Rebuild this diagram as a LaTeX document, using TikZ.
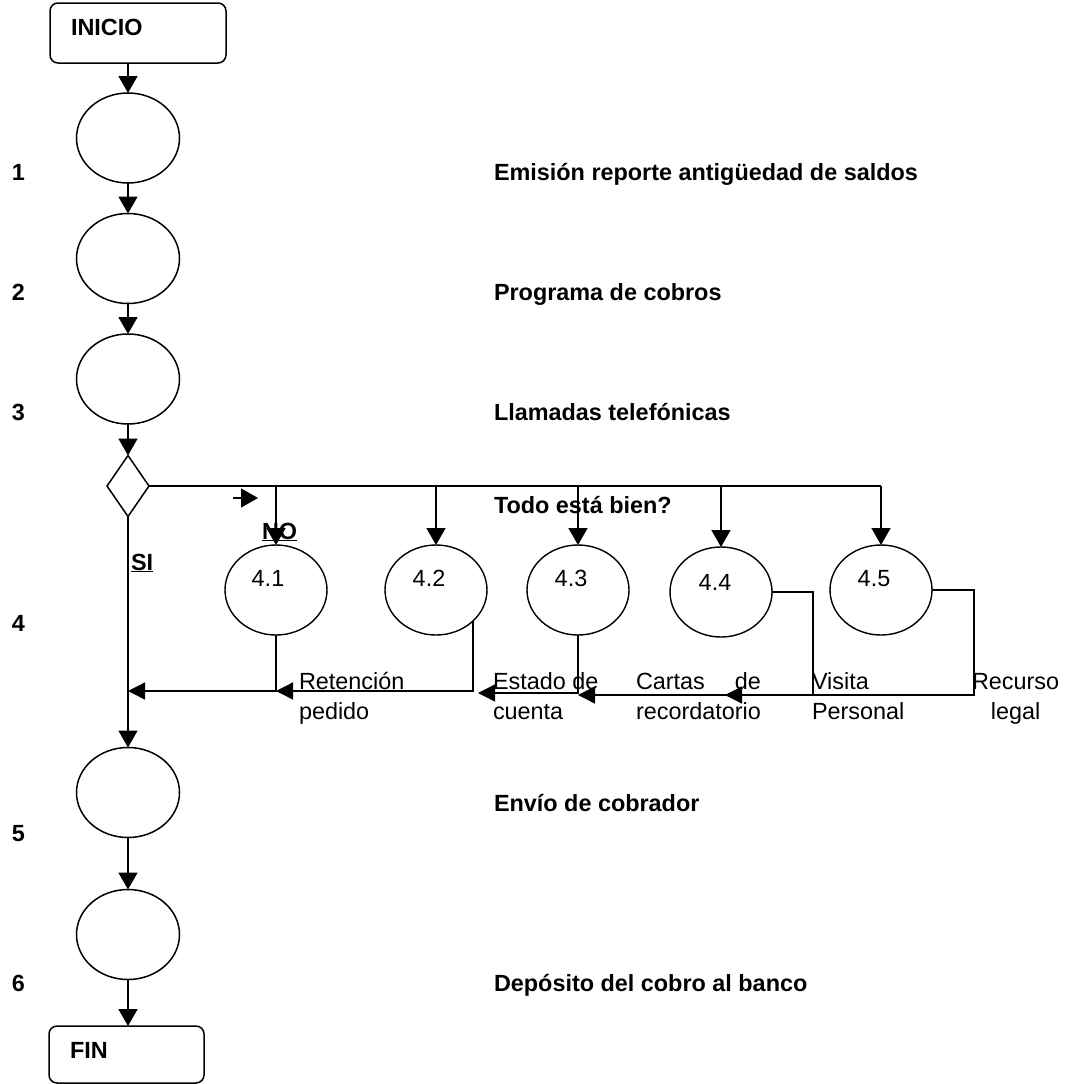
\documentclass[tikz,border=0pt]{standalone}
\usepackage{fontspec}
\setmainfont{Liberation Sans}
\usetikzlibrary{shapes.geometric,arrows.meta,calc}

\begin{document}
\begin{tikzpicture}[x=1pt,y=-1pt,
  every node/.style={font=\fontsize{23.4}{30}\selectfont, inner sep=0pt, outer sep=0pt},
  proc/.style={draw, line width=1.5pt, ellipse, minimum width=103pt, minimum height=90pt},
  subproc/.style={draw, line width=1.4pt, ellipse, minimum width=102pt, minimum height=90pt},
  term/.style={draw, line width=1.5pt, rounded corners=8pt, rectangle},
  decision/.style={draw, line width=1.5pt, diamond, minimum width=42pt, minimum height=61pt},
  boldtxt/.style={font=\fontsize{23.4}{30}\selectfont\bfseries, anchor=base west},
  plaintxt/.style={anchor=base west},
  numtxt/.style={anchor=base},
  flow/.style={line width=1.8pt, -{Triangle[length=17pt,width=19pt]}},
  back/.style={line width=1.4pt, -{Triangle[length=17pt,width=17pt]}},
]
\useasboundingbox (0,0) rectangle (1072,1084);

% --- main column -------------------------------------------------------
\node[term, minimum width=176pt, minimum height=60pt] (ini) at (138,33) {};
\node[boldtxt] (iniT) at (71,35) {INICIO};
\node[proc] (c1) at (128,138) {};
\node[proc] (c2) at (128,258.5) {};
\node[proc] (c3) at (128,379) {};
\node[decision] (d) at (128,486) {};
\node[proc] (c5) at (128,792.5) {};
\node[proc] (c6) at (128,934.5) {};
\node[term, minimum width=155pt, minimum height=57pt] (fin) at (126.5,1054.5) {};
\node[boldtxt] (finT) at (70,1058) {FIN};

\draw[flow] (ini.south -| c1.north) -- (c1.north);
\draw[flow] (c1.south) -- (c2.north);
\draw[flow] (c2.south) -- (c3.north);
\draw[flow] (c3.south) -- (d.north);
\draw[flow] (d.south) -- (c5.north);
\draw[flow] (c5.south) -- (c6.north);
\draw[flow] (c6.south) -- (fin.north -| c6.south);

% --- step numbers --------------------------------------------------------
\node[boldtxt] (s1) at (12,180) {1};
\node[boldtxt] (s2) at (12,300) {2};
\node[boldtxt] (s3) at (12,420) {3};
\node[boldtxt] (s4) at (12,631) {4};
\node[boldtxt] (s5) at (12,841) {5};
\node[boldtxt] (s6) at (12,991) {6};

% --- step descriptions ---------------------------------------------------
\node[boldtxt] (t1) at (494,180) {Emisión reporte antigüedad de saldos};
\node[boldtxt] (t2) at (494,300) {Programa de cobros};
\node[boldtxt] (t3) at (494,420) {Llamadas telefónicas};
\node[boldtxt] (t4) at (494,513) {Todo está bien?};
\node[boldtxt] (t5) at (494,811) {Envío de cobrador};
\node[boldtxt] (t6) at (494,991) {Depósito del cobro al banco};

% --- decision branches ---------------------------------------------------
\node[subproc] (c41) at (276,590) {};
\node[subproc] (c42) at (436,590) {};
\node[subproc] (c43) at (578,590) {};
\node[subproc] (c44) at (721,592) {};
\node[subproc] (c45) at (881,590) {};
\node[numtxt] (n41) at (268,586) {4.1};
\node[numtxt] (n42) at (429,586) {4.2};
\node[numtxt] (n43) at (571,586) {4.3};
\node[numtxt] (n44) at (715,590) {4.4};
\node[numtxt] (n45) at (874,586) {4.5};

\coordinate (hEnd) at (c45.north |- d.east);
\draw[line width=2.2pt] (d.east) -- (hEnd);
\foreach \c in {c41,c42,c43,c44,c45}
  \draw[flow] (\c.north |- d.east) -- (\c.north);

\coordinate (sa) at (233,498);
\coordinate (sb) at (258,498);
\draw[flow, line width=1.4pt] (sa) -- (sb);

\node[boldtxt] (no) at (262,539) {\underline{NO}};
\node[boldtxt] (si) at (131,570) {\underline{SI}};

% --- return paths --------------------------------------------------------
\coordinate (r1) at (c5.north |- 0,691);
\coordinate (r2) at (c41.south |- 0,691);
\coordinate (r3) at (478,693);
\coordinate (r4) at (578,695);
\coordinate (k4) at (813,695);
\coordinate (r5) at (725,695);
\coordinate (k5) at (974,695);

\draw[back] (c41.south) |- (r1);
\draw[back] (c42.-40) |- (r2);
\draw[back] (c43.south) |- (r3);
\draw[back] (c44.east) -| (k4) -- (r4);
\draw[back] (c45.east) -| (k5) -- (r5);

\node[plaintxt] (l1) at (299,689) {\begin{tabular}[t]{@{}l@{}}Retención\\pedido\end{tabular}};
\node[plaintxt] (l3) at (493,689) {\begin{tabular}[t]{@{}l@{}}Estado de\\cuenta\end{tabular}};
\node[plaintxt] (l2) at (636,689) {\begin{tabular}[t]{@{}l@{}}Cartas\hfill de\\recordatorio\end{tabular}};
\node[plaintxt] (l4) at (812,689) {\begin{tabular}[t]{@{}l@{}}Visita\\Personal\end{tabular}};
\node[plaintxt] (l5) at (972,689) {\begin{tabular}[t]{@{}c@{}}Recurso\\legal\end{tabular}};
\end{tikzpicture}
\end{document}
